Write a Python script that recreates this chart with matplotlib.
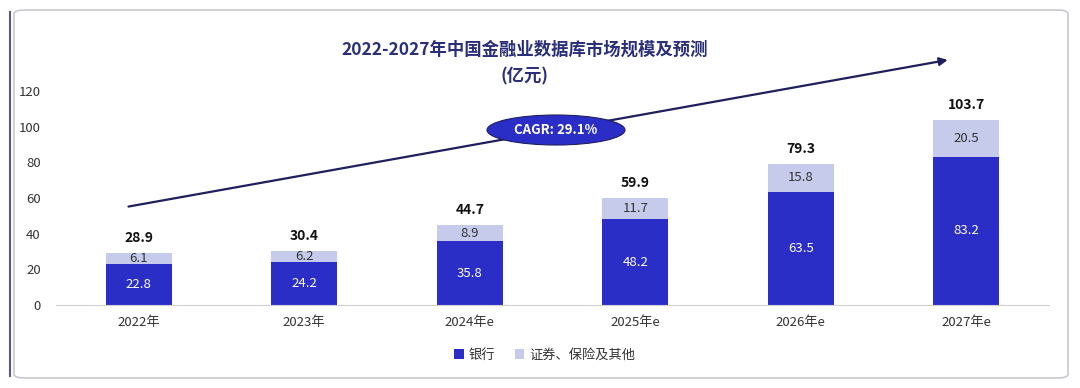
import matplotlib
matplotlib.use("Agg")
import matplotlib.pyplot as plt
from matplotlib.patches import FancyBboxPatch, Ellipse
import numpy as np

plt.rcParams['font.family'] = ['Noto Sans CJK SC', 'DejaVu Sans']

years = ["2022年", "2023年", "2024年e", "2025年e", "2026年e", "2027年e"]
bank = [22.8, 24.2, 35.8, 48.2, 63.5, 83.2]
others = [6.1, 6.2, 8.9, 11.7, 15.8, 20.5]
totals = [28.9, 30.4, 44.7, 59.9, 79.3, 103.7]
series_names = ["银行", "证券、保险及其他"]
yticks = [0, 20, 40, 60, 80, 100, 120]
title = "2022-2027年中国金融业数据库市场规模及预测"
subtitle = "(亿元)"
cagr_text = "CAGR: 29.1%"

c_bank = "#2a2ec6"
c_oth = "#c6cbec"

fig = plt.figure(figsize=(10.8, 3.88), dpi=100)
fig.patch.set_facecolor("white")

# frame
frame = FancyBboxPatch((14/1080, 10/388), 1054/1080, 368/388,
                       boxstyle="round,pad=0,rounding_size=0.01",
                       transform=fig.transFigure, fill=False,
                       edgecolor="#c8c8d0", linewidth=1.2)
fig.patches.append(frame)
fig.add_artist(plt.Line2D([10/1080, 10/1080], [12/388, 376/388], transform=fig.transFigure,
                          color="#5a5a7a", linewidth=1.5))

ax = fig.add_axes([56/1080, (388-305)/388, (1049-56)/1080, (305-91)/388])
x = np.arange(len(years))
w = 0.4
ax.bar(x, bank, width=w, color=c_bank, label=series_names[0], zorder=2)
ax.bar(x, others, width=w, bottom=bank, color=c_oth, label=series_names[1], zorder=2)

for i in range(len(years)):
    ax.text(x[i], bank[i] / 2, f"{bank[i]:.1f}", ha="center", va="center",
            color="white", fontsize=9.5)
    ax.text(x[i], bank[i] + others[i] / 2, f"{others[i]:.1f}", ha="center", va="center",
            color="#333333", fontsize=9.5)
    ax.text(x[i], totals[i] + 4.5, f"{totals[i]:.1f}", ha="center", va="bottom",
            color="#111111", fontsize=10, fontweight="bold")

ax.set_xlim(-0.5, 5.5)
ax.set_ylim(0, 120)
ax.set_yticks(yticks)
ax.set_xticks(x)
ax.set_xticklabels(years)
ax.tick_params(axis="both", length=0, labelsize=9.5, colors="#333333")
ax.tick_params(axis="y", pad=11)
ax.tick_params(axis="x", pad=8)
for s in ["top", "right", "left"]:
    ax.spines[s].set_visible(False)
ax.spines["bottom"].set_color("#d0d0d0")
ax.patch.set_alpha(0)

# arrow
ax.annotate("", xy=(0.898, 1.145), xytext=(0.073, 0.46), xycoords="axes fraction",
            textcoords="axes fraction",
            arrowprops=dict(arrowstyle="-|>", color="#1f1f5e", lw=1.6,
                            mutation_scale=12, shrinkA=0, shrinkB=0),
            annotation_clip=False)
ell = Ellipse((556/1080, (388-130)/388), 138/1080, 30/388, transform=fig.transFigure,
              facecolor=c_bank, edgecolor="#1f1f5e", linewidth=0.8, zorder=5)
fig.patches.append(ell)
fig.text(556/1080, (388-130)/388, cagr_text, ha="center", va="center", color="white",
         fontsize=9.5, fontweight="bold", zorder=6)

fig.text(525/1080, (388-50)/388, title, ha="center", va="center", color="#2a2f78",
         fontsize=12.5, fontweight="bold")
fig.text(525/1080, (388-76)/388, subtitle, ha="center", va="center", color="#2a2f78",
         fontsize=12.5, fontweight="bold")

leg = fig.legend(loc="center", bbox_to_anchor=(545/1080, (388-355)/388), ncol=2,
                 frameon=False, fontsize=9.5, handlelength=0.7, handleheight=0.7,
                 handletextpad=0.4, columnspacing=1.5)
for t in leg.get_texts():
    t.set_color("#333333")

fig.savefig("out.png", dpi=100)
